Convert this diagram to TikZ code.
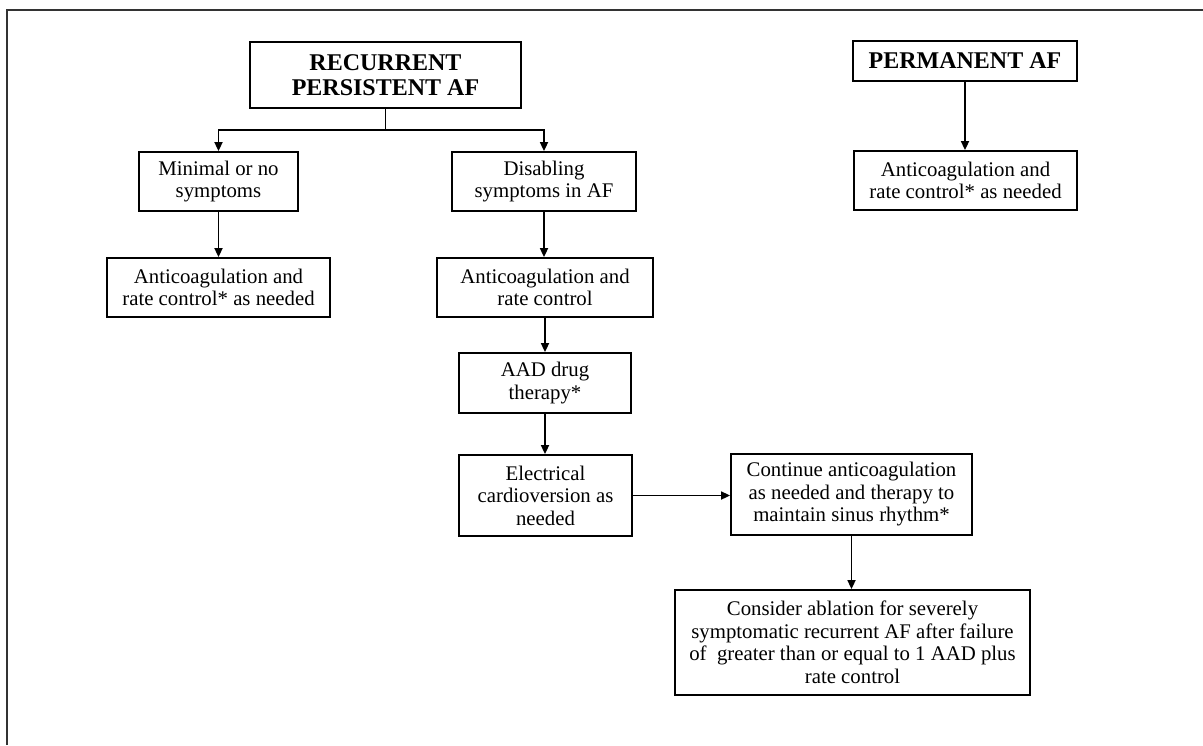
\documentclass[tikz,border=0pt]{standalone}
\usepackage{fontspec}
\setmainfont{Liberation Serif}
\usetikzlibrary{arrows.meta}
\newcommand{\regtxt}{\fontsize{20.8}{22.5}\selectfont}
\newcommand{\headtxt}{\fontsize{24}{25.5}\selectfont\bfseries}
\begin{document}
\begin{tikzpicture}[x=1pt,y=-1pt,
  fbox/.style={draw=black, line width=1.8pt, inner sep=0pt, align=center, font=\regtxt, text=black},
  hbox/.style={fbox, font=\headtxt},
  arr/.style={line width=1.7pt, draw=black, -{Triangle[length=9pt,width=8pt]}},
  ln/.style={line width=1.7pt, draw=black}]
\useasboundingbox (0,0) rectangle (1203,745);
\draw[line width=1.8pt, black!80] (7,745) -- (7,10) -- (1203,10);

\node[hbox, minimum width=271pt, minimum height=66pt] (rpaf) at (385.5,75) {RECURRENT\\PERSISTENT AF};
\node[hbox, minimum width=224pt, minimum height=40pt] (perm) at (965,61) {PERMANENT AF};
\node[fbox, minimum width=223pt, minimum height=59pt] (permac) at (965.5,180.5) {Anticoagulation and\\rate control* as needed};
\node[fbox, minimum width=159pt, minimum height=59pt] (minimal) at (218.5,181.5) {Minimal or no\\symptoms};
\node[fbox, minimum width=223pt, minimum height=59pt] (ac1) at (218.5,287.5) {Anticoagulation and\\rate control* as needed};
\node[fbox, minimum width=184pt, minimum height=59pt] (disabling) at (544,181.5) {Disabling\\symptoms in AF};
\node[fbox, minimum width=216pt, minimum height=59pt] (ac2) at (545,287.5) {Anticoagulation and\\rate control};
\node[fbox, minimum width=172pt, minimum height=60pt] (aad) at (545,383) {AAD drug\\therapy*};
\node[fbox, minimum width=173pt, minimum height=81pt] (elec) at (545.5,495.5) {Electrical\\cardioversion as\\needed};
\node[fbox, minimum width=241pt, minimum height=81pt] (cont) at (851.5,494.5) {Continue anticoagulation\\as needed and therapy to\\maintain sinus rhythm*};
\node[fbox, minimum width=355pt, minimum height=105pt] (consider) at (852.5,642.5) {Consider ablation for severely\\symptomatic recurrent AF after failure\\of\ \ greater than or equal to 1 AAD plus\\rate control};

\draw[ln] (rpaf.south) -- ++(0,21) coordinate (split);
\draw[arr] (split) -| (minimal.north);
\draw[arr] (split) -| (disabling.north);
\draw[arr] (minimal.south) -- (ac1.north);
\draw[arr] (disabling.south) -- (disabling.south |- ac2.north);
\draw[arr] (ac2.south) -- (aad.north);
\draw[arr] (aad.south) -- (aad.south |- elec.north);
\draw[arr] (elec.east) -- (elec.east -| cont.west);
\draw[arr] (cont.south) -- (cont.south |- consider.north);
\draw[arr] (perm.south) -- (perm.south |- permac.north);
\end{tikzpicture}
\end{document}
